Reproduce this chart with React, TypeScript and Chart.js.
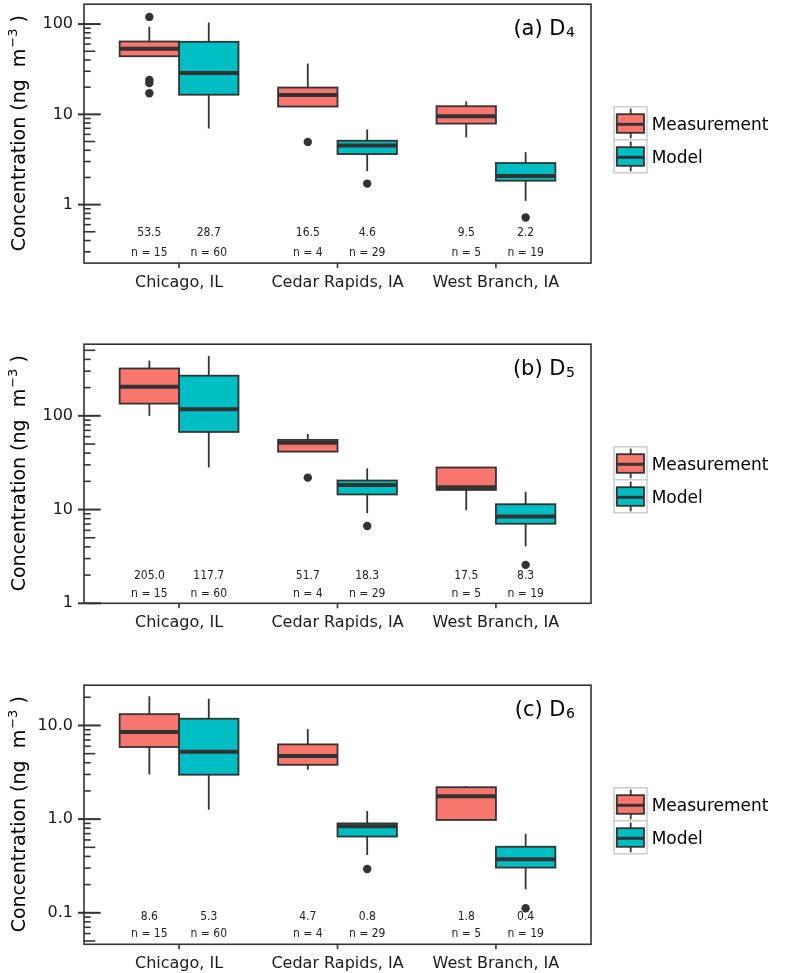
import React, { useEffect, useRef } from "react";
import { Chart, registerables } from "chart.js";

Chart.register(...registerables);

// ---------------- data ----------------
const SITES = ["Chicago, IL", "Cedar Rapids, IA", "West Branch, IA"];
const GROUPS = ["Measurement", "Model"];
const GROUP_FILLS = ["#F8766D", "#00BFC4"];
const MEASUREMENT_N = [15, 4, 5];
const MODEL_N = [60, 29, 19];

// five-number summaries per site: [whisker low, Q1, median, Q3, whisker high]
const D4_MEASUREMENT = [
  [44.0, 44.0, 53.2, 64.1, 93.5],
  [12.2, 12.2, 16.4, 19.8, 36.5],
  [5.56, 7.9, 9.5, 12.3, 13.9],
];
const D4_MODEL = [
  [6.97, 16.5, 28.7, 63.6, 104],
  [2.35, 3.63, 4.51, 5.1, 6.8],
  [1.1, 1.84, 2.07, 2.89, 3.81],
];
const D4_MEASUREMENT_OUTLIERS = [[120, 24.0, 22.2, 17.1], [4.95], []];
const D4_MODEL_OUTLIERS = [[], [1.71], [0.72]];
const D4_MEASUREMENT_MEDIANS = [53.5, 16.5, 9.5];
const D4_MODEL_MEDIANS = [28.7, 4.6, 2.2];
const D4_Y_TICKS = [1, 10, 100];
const D4_Y_TICK_LABELS = ["1", "10", "100"];

const D5_MEASUREMENT = [
  [100, 135, 204, 320, 388],
  [41.5, 41.5, 51.5, 55.4, 64.1],
  [9.84, 16.2, 17.3, 28.1, 28.1],
];
const D5_MODEL = [
  [28.1, 67.3, 117.6, 268, 435],
  [9.15, 14.5, 18.3, 20.4, 27.5],
  [4.05, 7.06, 8.44, 11.4, 15.5],
];
const D5_MEASUREMENT_OUTLIERS = [[], [21.9], []];
const D5_MODEL_OUTLIERS = [[], [6.68], [2.57]];
const D5_MEASUREMENT_MEDIANS = [205.0, 51.7, 17.5];
const D5_MODEL_MEDIANS = [117.7, 18.3, 8.3];
const D5_Y_TICKS = [1, 10, 100];
const D5_Y_TICK_LABELS = ["1", "10", "100"];

const D6_MEASUREMENT = [
  [3.0, 5.89, 8.54, 13.2, 20.5],
  [3.37, 3.8, 4.73, 6.28, 9.12],
  [0.98, 0.98, 1.75, 2.19, 2.25],
];
const D6_MODEL = [
  [1.26, 2.98, 5.25, 11.8, 19.3],
  [0.414, 0.652, 0.837, 0.9, 1.22],
  [0.178, 0.304, 0.372, 0.507, 0.695],
];
const D6_MEASUREMENT_OUTLIERS = [[], [], []];
const D6_MODEL_OUTLIERS = [[], [0.294], [0.112]];
const D6_MEASUREMENT_MEDIANS = [8.6, 4.7, 1.8];
const D6_MODEL_MEDIANS = [5.3, 0.8, 0.4];
const D6_Y_TICKS = [0.1, 1, 10];
const D6_Y_TICK_LABELS = ["0.1", "1.0", "10.0"];

// ---------------- layout / style ----------------
const CANVAS_W = 800;
const CANVAS_H = 292;
const AREA_LEFT = 84;
const AREA_RIGHT = 591;
const AREA_H = 262.6;
const DODGE = 0.1875; // half of the dodge offset == half box width
const INK = "#333333";
const FONT = "'DejaVu Sans', 'Noto Sans', sans-serif";
const FONT_SMALL = "'DejaVu Sans Condensed', 'DejaVu Sans', sans-serif";

type Stats = number[];
interface PanelDef {
  tag: string;
  sub: string;
  top: number;
  padTop: number;
  yMin: number;
  yMax: number;
  yTicks: number[];
  yTickLabels: string[];
  groups: Stats[][];
  outliers: number[][][];
  medians: number[][];
  labelY: number[];
}

const PANELS: PanelDef[] = [
  {
    tag: "(a) D", sub: "4", top: 0, padTop: 0.5, yMin: 0.225, yMax: 166,
    yTicks: D4_Y_TICKS, yTickLabels: D4_Y_TICK_LABELS,
    groups: [D4_MEASUREMENT, D4_MODEL],
    outliers: [D4_MEASUREMENT_OUTLIERS, D4_MODEL_OUTLIERS],
    medians: [D4_MEASUREMENT_MEDIANS, D4_MODEL_MEDIANS],
    labelY: [0.49, 0.29],
  },
  {
    tag: "(b) D", sub: "5", top: 340, padTop: 0.7, yMin: 1, yMax: 581,
    yTicks: D5_Y_TICKS, yTickLabels: D5_Y_TICK_LABELS,
    groups: [D5_MEASUREMENT, D5_MODEL],
    outliers: [D5_MEASUREMENT_OUTLIERS, D5_MODEL_OUTLIERS],
    medians: [D5_MEASUREMENT_MEDIANS, D5_MODEL_MEDIANS],
    labelY: [1.95, 1.27],
  },
  {
    tag: "(c) D", sub: "6", top: 681, padTop: 0.7, yMin: 0.0461, yMax: 26.9,
    yTicks: D6_Y_TICKS, yTickLabels: D6_Y_TICK_LABELS,
    groups: [D6_MEASUREMENT, D6_MODEL],
    outliers: [D6_MEASUREMENT_OUTLIERS, D6_MODEL_OUTLIERS],
    medians: [D6_MEASUREMENT_MEDIANS, D6_MODEL_MEDIANS],
    labelY: [0.09, 0.06],
  },
];

function groupX(site: number, g: number) {
  return site + 1 + (g === 0 ? -DODGE : DODGE);
}

function line(ctx: CanvasRenderingContext2D, x0: number, y0: number, x1: number, y1: number) {
  ctx.beginPath();
  ctx.moveTo(x0, y0);
  ctx.lineTo(x1, y1);
  ctx.stroke();
}

function drawBox(ctx: CanvasRenderingContext2D, xs: any, ys: any, xc: number, s: Stats, fill: string) {
  const [lo, q1, med, q3, hi] = s;
  const cx = xs.getPixelForValue(xc);
  const x0 = xs.getPixelForValue(xc - DODGE);
  const x1 = xs.getPixelForValue(xc + DODGE);
  const yLo = ys.getPixelForValue(lo);
  const yQ1 = ys.getPixelForValue(q1);
  const yMed = ys.getPixelForValue(med);
  const yQ3 = ys.getPixelForValue(q3);
  const yHi = ys.getPixelForValue(hi);
  ctx.strokeStyle = INK;
  ctx.lineCap = "butt";
  ctx.lineWidth = 1.8;
  line(ctx, cx, yHi, cx, yQ3);
  line(ctx, cx, yQ1, cx, yLo);
  ctx.fillStyle = fill;
  ctx.fillRect(x0, yQ3, x1 - x0, yQ1 - yQ3);
  ctx.strokeRect(x0, yQ3, x1 - x0, yQ1 - yQ3);
  ctx.lineWidth = 4;
  line(ctx, x0, yMed, x1, yMed);
}

function makePlugin(p: PanelDef) {
  return {
    id: "boxDecor",
    beforeDatasetsDraw(chart: any) {
      const ctx: CanvasRenderingContext2D = chart.ctx;
      const xs = chart.scales.x;
      const ys = chart.scales.y;
      ctx.save();
      p.groups.forEach((stats, g) => {
        stats.forEach((s, i) => drawBox(ctx, xs, ys, groupX(i, g), s, GROUP_FILLS[g]));
      });
      ctx.restore();
    },
    afterDraw(chart: any) {
      const ctx: CanvasRenderingContext2D = chart.ctx;
      const xs = chart.scales.x;
      const ys = chart.scales.y;
      const a = chart.chartArea;
      ctx.save();
      // panel frame
      ctx.strokeStyle = INK;
      ctx.lineWidth = 1.6;
      ctx.strokeRect(a.left, a.top, a.right - a.left, a.bottom - a.top);

      // log ticks on y
      const d0 = Math.floor(Math.log10(ys.min)) - 1;
      const d1 = Math.ceil(Math.log10(ys.max)) + 1;
      for (let d = d0; d <= d1; d++) {
        for (let m = 1; m <= 9; m++) {
          const v = m * Math.pow(10, d);
          if (v < ys.min * 0.999 || v > ys.max * 1.001) continue;
          const y = ys.getPixelForValue(v);
          if (m === 1) {
            ctx.lineWidth = 2;
            line(ctx, a.left - 6, y, a.left + 16.7, y);
          } else {
            ctx.lineWidth = 1.6;
            line(ctx, a.left, y, a.left + (m === 5 ? 11.3 : 6.7), y);
          }
        }
      }
      // x ticks
      ctx.lineWidth = 1.6;
      for (let i = 0; i < SITES.length; i++) {
        const x = xs.getPixelForValue(i + 1);
        line(ctx, x, a.bottom, x, a.bottom + 5);
      }

      // median and n annotations
      ctx.fillStyle = "#222";
      ctx.font = `12px ${FONT_SMALL}`;
      ctx.textAlign = "center";
      ctx.textBaseline = "middle";
      const yMedLab = ys.getPixelForValue(p.labelY[0]);
      const yNLab = ys.getPixelForValue(p.labelY[1]);
      p.medians.forEach((arr, g) => {
        const ns = g === 0 ? MEASUREMENT_N : MODEL_N;
        arr.forEach((m, i) => {
          const x = xs.getPixelForValue(groupX(i, g));
          ctx.fillText(m.toFixed(1), x, yMedLab);
          ctx.fillText(`n = ${ns[i]}`, x, yNLab);
        });
      });

      // panel tag "(a) D4"
      ctx.fillStyle = "#000";
      ctx.textBaseline = "alphabetic";
      ctx.textAlign = "left";
      ctx.font = `21px ${FONT}`;
      const wMain = ctx.measureText(p.tag).width;
      ctx.font = `14px ${FONT}`;
      const wSub = ctx.measureText(p.sub).width;
      const tx = a.right - 16.6 - wMain - wSub;
      const ty = a.top + 30.5;
      ctx.font = `21px ${FONT}`;
      ctx.fillText(p.tag, tx, ty);
      ctx.font = `14px ${FONT}`;
      ctx.fillText(p.sub, tx + wMain + 0.5, ty + 2);

      // y-axis title with superscript
      const cy = (a.top + a.bottom) / 2;
      ctx.translate(24.5, cy);
      ctx.rotate(-Math.PI / 2);
      const s1 = "Concentration (ng  m";
      const s2 = "\u22123";
      const s3 = " )";
      ctx.font = `19px ${FONT}`;
      const w1 = ctx.measureText(s1).width;
      const w3 = ctx.measureText(s3).width;
      ctx.font = `13px ${FONT}`;
      const w2 = ctx.measureText(s2).width;
      let x = -(w1 + w2 + w3) / 2;
      ctx.font = `19px ${FONT}`;
      ctx.fillText(s1, x, 0);
      x += w1;
      ctx.font = `13px ${FONT}`;
      ctx.fillText(s2, x + 1, -8);
      x += w2 + 1;
      ctx.font = `19px ${FONT}`;
      ctx.fillText(s3, x, 0);
      ctx.setTransform(1, 0, 0, 1, 0, 0);

      // legend
      const kx = 614;
      const ks = 33;
      const ky0 = a.top + 102.6;
      GROUPS.forEach((name, g) => {
        const ky = ky0 + g * ks;
        ctx.fillStyle = "#ffffff";
        ctx.fillRect(kx, ky, ks, ks);
        ctx.strokeStyle = "#cccccc";
        ctx.lineWidth = 1.5;
        ctx.strokeRect(kx, ky, ks, ks);
        ctx.strokeStyle = INK;
        ctx.lineWidth = 1.8;
        line(ctx, kx + 16.7, ky + 1.8, kx + 16.7, ky + 31.5);
        ctx.fillStyle = GROUP_FILLS[g];
        ctx.fillRect(kx + 2.8, ky + 7.4, 27.2, 18.6);
        ctx.strokeRect(kx + 2.8, ky + 7.4, 27.2, 18.6);
        ctx.lineWidth = 3;
        line(ctx, kx + 2.8, ky + 17.5, kx + 30, ky + 17.5);
        ctx.fillStyle = "#000";
        ctx.font = `17px ${FONT}`;
        ctx.textAlign = "left";
        ctx.textBaseline = "alphabetic";
        ctx.fillText(name, kx + 37.7, ky + 23.5);
      });
      ctx.restore();
    },
  };
}

function Panel({ p }: { p: PanelDef }) {
  const ref = useRef<HTMLCanvasElement>(null);
  useEffect(() => {
    const canvas = ref.current;
    if (!canvas) return;
    const xAxisH = CANVAS_H - p.padTop - AREA_H;
    const datasets = p.outliers.map((sites, g) => ({
      label: `${GROUPS[g]} outliers`,
      data: sites.flatMap((vals, i) => vals.map((v) => ({ x: groupX(i, g), y: v }))),
      pointRadius: 4.2,
      pointHoverRadius: 4.2,
      pointBackgroundColor: INK,
      pointBorderWidth: 0,
      backgroundColor: INK,
      borderColor: INK,
    }));
    const chart = new Chart(canvas, {
      type: "scatter",
      data: { datasets },
      options: {
        responsive: false,
        animation: false,
        devicePixelRatio: 1,
        events: [],
        layout: { padding: { top: p.padTop, right: CANVAS_W - AREA_RIGHT, bottom: 0, left: 0 } },
        plugins: { legend: { display: false }, tooltip: { enabled: false } },
        scales: {
          x: {
            type: "linear",
            min: 0.4,
            max: 3.6,
            bounds: "data",
            grid: { display: false, drawTicks: false },
            border: { display: false },
            afterBuildTicks: (s: any) => {
              s.ticks = SITES.map((_, i) => ({ value: i + 1 }));
            },
            afterFit: (s: any) => {
              s.height = xAxisH;
              s.paddingLeft = 0;
              s.paddingRight = 0;
            },
            ticks: {
              autoSkip: false,
              maxRotation: 0,
              minRotation: 0,
              padding: 10,
              color: "#1a1a1a",
              font: { family: FONT, size: 16 },
              callback: (_v: any, i: number) => SITES[i],
            },
          },
          y: {
            type: "logarithmic",
            min: p.yMin,
            max: p.yMax,
            bounds: "data",
            grid: { display: false, drawTicks: false },
            border: { display: false },
            afterBuildTicks: (s: any) => {
              s.ticks = p.yTicks.map((v) => ({ value: v }));
            },
            afterFit: (s: any) => {
              s.width = AREA_LEFT;
              s.paddingTop = 0;
              s.paddingBottom = 0;
            },
            ticks: {
              autoSkip: false,
              padding: 11,
              color: "#1a1a1a",
              font: { family: FONT, size: 16 },
              callback: (_v: any, i: number) => p.yTickLabels[i],
            },
          },
        },
      } as any,
      plugins: [makePlugin(p)],
    });
    return () => chart.destroy();
  }, [p]);
  return (
    <canvas
      ref={ref}
      width={CANVAS_W}
      height={CANVAS_H}
      style={{ position: "absolute", left: 0, top: p.top, width: CANVAS_W, height: CANVAS_H }}
    />
  );
}

export default function App() {
  return (
    <div style={{ position: "absolute", left: 0, top: 0, width: 800, height: 973, background: "#fff" }}>
      {PANELS.map((p, i) => (
        <Panel key={i} p={p} />
      ))}
    </div>
  );
}
